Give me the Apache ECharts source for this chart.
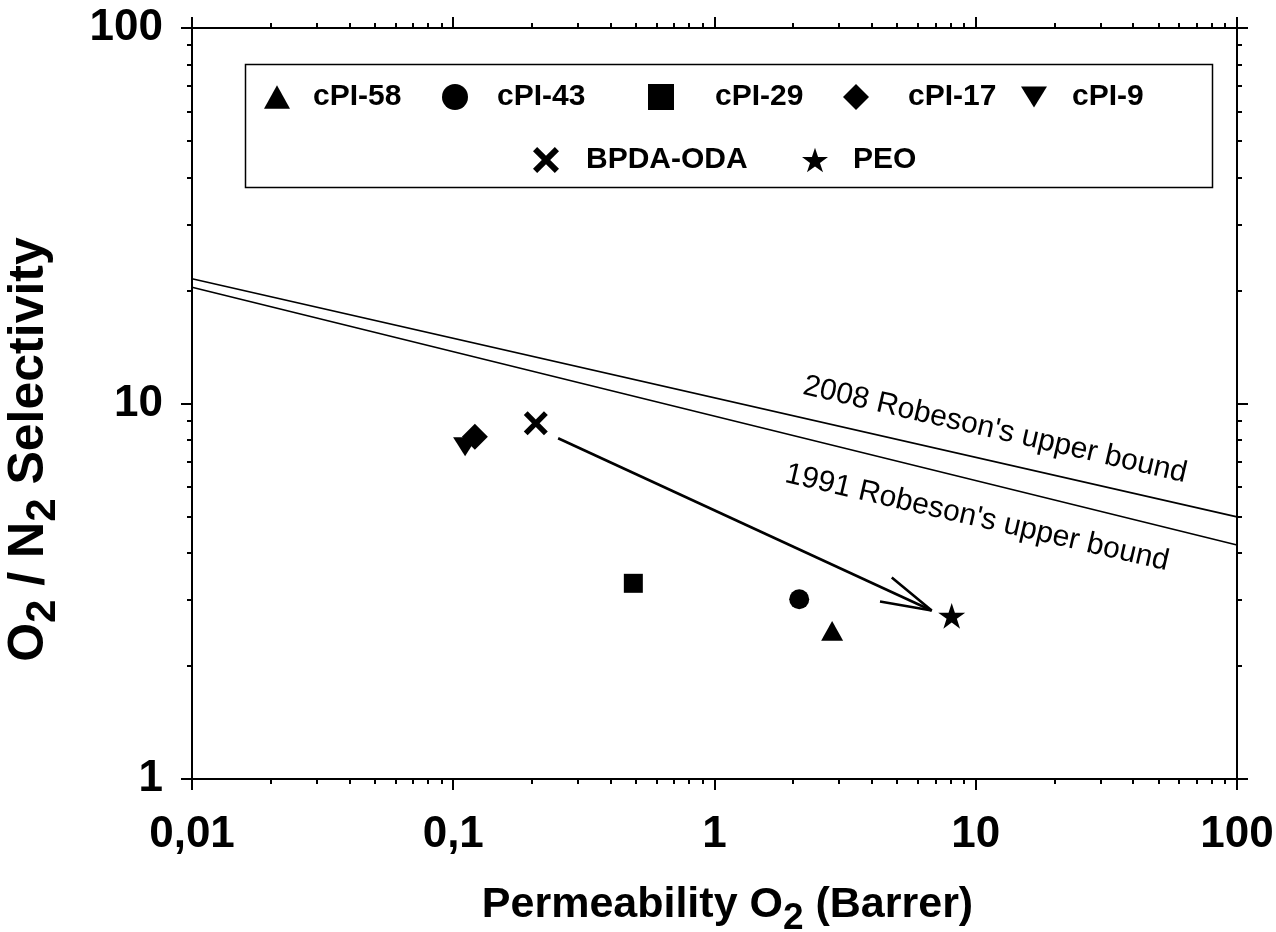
<!DOCTYPE html>
<html>
<head>
<meta charset="utf-8">
<script src="https://cdn.jsdelivr.net/npm/echarts@6/dist/echarts.min.js"></script>
<style>html,body{margin:0;padding:0;background:#fff}#c{width:1276px;height:932px}</style>
</head>
<body>
<div id="c"></div>
<script>
// ---- data ----
const xTickValues = [0.01, 0.1, 1, 10, 100];
const xTickLabels = ['0,01', '0,1', '1', '10', '100'];
const yTickValues = [1, 10, 100];
const yTickLabels = ['1', '10', '100'];
const minorMultipliers = [2, 3, 4, 5, 6, 7, 8, 9];

const cPI58 = [[2.82, 2.48]];
const cPI43 = [[2.11, 3.01]];
const cPI29 = [[0.489, 3.32]];
const cPI17 = [[0.121, 8.16]];
const cPI9 = [[0.111, 7.67]];
const bpdaOda = [[0.207, 8.86]];
const peo = [[8.09, 2.72]];
const robeson2008 = [[0.01, 21.5], [100, 4.99]];
const robeson1991 = [[0.01, 20.4], [100, 4.2]];
const arrowShaft = [[0.252, 8.08], [6.78, 2.81]];
const arrowHead = [[4.77, 3.44], [6.78, 2.81], [4.30, 2.97]];

// ---- helpers ----
function minorTicks(majors) {
  const out = [];
  for (let i = 0; i < majors.length - 1; i++) minorMultipliers.forEach(m => out.push(majors[i] * m));
  return out;
}
function labelFor(values, labels) {
  return v => {
    let best = 0, bd = Infinity;
    values.forEach((t, i) => { const d = Math.abs(Math.log10(v) - Math.log10(t)); if (d < bd) { bd = d; best = i; } });
    return labels[best];
  };
}
const BOLD = "'Liberation Sans Narrow', 'Liberation Sans', Arial, sans-serif";
const axisColor = '#000';

function mkAxis(kind, pos, major, isMinor) {
  const vals = isMinor ? minorTicks(major) : major;
  return {
    type: 'log', logBase: 10, position: pos,
    min: kind === 'x' ? 0.01 : 1, max: 100,
    axisLine: { show: !isMinor, onZero: false, lineStyle: { color: axisColor, width: 2 } },
    axisTick: { show: true, inside: false, customValues: vals, length: isMinor ? 5 : 11, lineStyle: { color: axisColor, width: 2 } },
    axisLabel: { show: false },
    splitLine: { show: false },
    minorTick: { show: false },
    minorSplitLine: { show: false }
  };
}

const xAxes = [
  mkAxis('x', 'bottom', xTickValues, false),
  mkAxis('x', 'bottom', xTickValues, true),
  mkAxis('x', 'top', xTickValues, false),
  mkAxis('x', 'top', xTickValues, true)
];
xAxes[0].axisLabel = { show: true, customValues: xTickValues, formatter: labelFor(xTickValues, xTickLabels), fontFamily: BOLD, fontWeight: 'bold', fontSize: 44, color: '#000', margin: 34 };
xAxes[0].name = '{m|Permeability O}{s|2}{m| (Barrer)}';
xAxes[0].nameLocation = 'middle';
xAxes[0].nameGap = 105;
xAxes[0].nameTextStyle = {
  padding: [0, 0, 0, 26],
  rich: {
    m: { fontFamily: BOLD, fontWeight: 'bold', fontSize: 43, color: '#000', verticalAlign: 'top' },
    s: { fontFamily: BOLD, fontWeight: 'bold', fontSize: 37, color: '#000', verticalAlign: 'top', padding: [16, 0, 0, 0] }
  }
};

const yAxes = [
  mkAxis('y', 'left', yTickValues, false),
  mkAxis('y', 'left', yTickValues, true),
  mkAxis('y', 'right', yTickValues, false),
  mkAxis('y', 'right', yTickValues, true)
];
yAxes[0].axisLabel = { show: true, customValues: yTickValues, formatter: labelFor(yTickValues, yTickLabels), fontFamily: BOLD, fontWeight: 'bold', fontSize: 44, color: '#000', margin: 29 };
yAxes[0].name = '{m|O}{s|2}{m| / N}{s|2}{m| Selectivity}';
yAxes[0].nameLocation = 'middle';
yAxes[0].nameRotate = 90;
yAxes[0].nameGap = 128;
yAxes[0].nameTextStyle = {
  padding: [0, 92, 0, 0],
  rich: {
    m: { fontFamily: BOLD, fontWeight: 'bold', fontSize: 50, color: '#000', verticalAlign: 'top' },
    s: { fontFamily: BOLD, fontWeight: 'bold', fontSize: 42, color: '#000', verticalAlign: 'top', padding: [18, 0, 0, 0] }
  }
};

const starPath = 'path://M100 0 L122.45 69.1 L195.1 69.1 L136.3 111.8 L158.8 180.9 L100 138.2 L41.2 180.9 L63.7 111.8 L4.9 69.1 L77.55 69.1 Z';
const crossPath = 'path://M0 16 L16 0 L50 34 L84 0 L100 16 L66 50 L100 84 L84 100 L50 66 L16 100 L0 84 L34 50 Z';
const downTriPath = 'path://M0 0 L100 0 L50 80 Z';
const upTriPath = 'path://M50 0 L100 90 L0 90 Z';
const diamondPath = 'path://M50 0 L100 50 L50 100 L0 50 Z';

function scatter(name, data, symbol, size) {
  return {
    name, type: 'scatter', data, symbol, symbolSize: size, symbolKeepAspect: true,
    itemStyle: { color: '#000', opacity: 1 }, xAxisIndex: 0, yAxisIndex: 0, z: 5
  };
}
function line(name, data, width) {
  return { name, type: 'line', data, symbol: 'none', xAxisIndex: 0, yAxisIndex: 0,
    lineStyle: { color: '#000', width }, silent: true, z: 3 };
}

const series = [
  line('2008 upper bound', robeson2008, 1.6),
  line('1991 upper bound', robeson1991, 1.6),
  line('arrow', arrowShaft, 2.6),
  line('arrowhead', arrowHead, 2.6),
  scatter('cPI-58', cPI58, upTriPath, 22),
  scatter('cPI-43', cPI43, 'circle', 20),
  scatter('cPI-29', cPI29, 'rect', 19),
  scatter('cPI-17', cPI17, diamondPath, 26),
  scatter('cPI-9', cPI9, downTriPath, 24),
  scatter('BPDA-ODA', bpdaOda, crossPath, 24),
  scatter('PEO', peo, starPath, 27)
];

// legend: one component per entry, positioned like the reference box
const legendSpec = [
  ['cPI-58', 264, 82], ['cPI-43', 442, 82], ['cPI-29', 648, 82], ['cPI-17', 843, 82], ['cPI-9', 1021, 82],
  ['BPDA-ODA', 533, 145], ['PEO', 802, 145]
];
const legendTextGap = { 'cPI-58': 18, 'cPI-43': 24, 'cPI-29': 36, 'cPI-17': 34, 'cPI-9': 20, 'BPDA-ODA': 22, 'PEO': 20 };
const legends = legendSpec.map(([n, l, t]) => ({
  data: [n], left: l, top: t, itemWidth: 26, itemHeight: 26, padding: 0, selectedMode: false,
  itemStyle: { borderWidth: 0 },
  textStyle: { fontFamily: BOLD, fontWeight: 'bold', fontSize: 30, color: '#000', padding: [0, 0, 0, legendTextGap[n]] }
}));

const chart = echarts.init(document.getElementById('c'), null, { renderer: 'canvas' });
chart.setOption({
  backgroundColor: '#fff',
  animation: false,
  grid: { left: 192, right: 39, top: 28, bottom: 153, containLabel: false, outerBoundsMode: 'none' },
  xAxis: xAxes,
  yAxis: yAxes,
  legend: legends,
  graphic: [
    { type: 'rect', left: 243, top: 62, shape: { width: 967, height: 123 }, style: { fill: 'none', stroke: '#000', lineWidth: 1.5 }, z: 10 },
    { type: 'text', x: 995, y: 430, rotation: -0.227, style: { text: "2008 Robeson's upper bound", x: 0, y: 0, textAlign: 'center', textVerticalAlign: 'middle', font: "30px 'Liberation Sans', Arial, sans-serif", fill: '#000' } },
    { type: 'text', x: 977, y: 518, rotation: -0.227, style: { text: "1991 Robeson's upper bound", x: 0, y: 0, textAlign: 'center', textVerticalAlign: 'middle', font: "30px 'Liberation Sans', Arial, sans-serif", fill: '#000' } }
  ],
  series
});
</script>
</body>
</html>
